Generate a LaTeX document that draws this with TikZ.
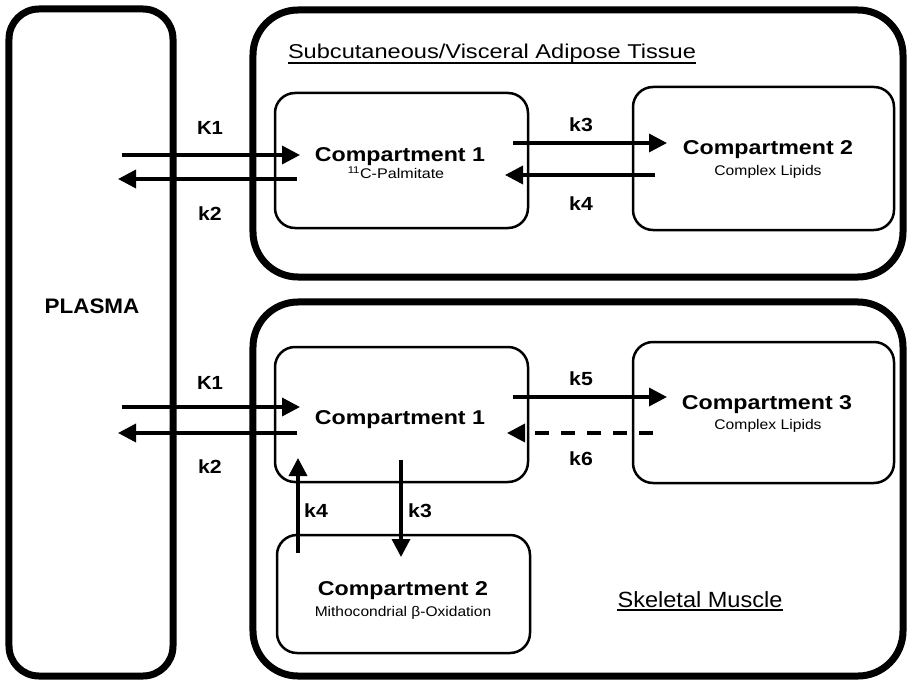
\documentclass[tikz,border=0pt]{standalone}
\usepackage{fontspec}
\setmainfont{Liberation Sans}
\usepackage{graphicx}
\usetikzlibrary{arrows.meta}
% horizontally widened text
\newcommand\widetxt[2]{\scalebox{#1}[1]{#2}}
\begin{document}
\begin{tikzpicture}[x=1bp,y=-1bp,
  region/.style={draw, line width=7bp, rounded corners=#1, inner sep=0pt},
  compbox/.style={draw, line width=2.5bp, rounded corners=20bp, inner sep=0pt},
  compname/.style={anchor=base, inner sep=0pt, font=\fontsize{20bp}{24bp}\selectfont\bfseries},
  compsub/.style={anchor=base, inner sep=0pt, font=\fontsize{14bp}{17bp}\selectfont},
  heading/.style={anchor=base, inner sep=0pt, font=\fontsize{20bp}{24bp}\selectfont},
  rate/.style={anchor=base, inner sep=0pt, font=\fontsize{19bp}{23bp}\selectfont\bfseries},
  flow/.style={line width=3.5bp, -{Triangle[length=18bp,width=18bp]}},
  uline/.style={line width=1.5bp}
]
\useasboundingbox (0,0) rectangle (909,681);

% outer regions
\node[region=30bp, minimum width=164bp, minimum height=667bp] (plasma) at (91,342.5) {};
\node[region=45bp, minimum width=650bp, minimum height=267bp] (adipose) at (578,143.5) {};
\node[region=45bp, minimum width=650bp, minimum height=374bp] (muscle) at (578,489) {};

\node[anchor=base, inner sep=0pt, font=\fontsize{21bp}{25bp}\selectfont\bfseries] (plasmalbl) at (92,313) {\widetxt{1.07}{PLASMA}};

% region headings
\node[heading] (adtitle) at (492,59) {\widetxt{1.18}{Subcutaneous/Visceral Adipose Tissue}};
\draw[uline] ([yshift=-4bp]adtitle.base west) -- ([yshift=-4bp]adtitle.base east);
\node[heading, font=\fontsize{22bp}{26bp}\selectfont] (mutitle) at (700,607) {\widetxt{1.07}{Skeletal Muscle}};
\draw[uline] ([yshift=-3bp]mutitle.base west) -- ([yshift=-3bp]mutitle.base east);

% compartments
\node[compbox, minimum width=253bp, minimum height=135bp] (a1) at (401.5,160.5) {};
\node[compbox, minimum width=261bp, minimum height=143bp] (a2) at (763.5,158.5) {};
\node[compbox, minimum width=253bp, minimum height=135bp] (m1) at (401.5,414.5) {};
\node[compbox, minimum width=261bp, minimum height=141bp] (m3) at (763.5,412.5) {};
\node[compbox, minimum width=253bp, minimum height=118bp] (m2) at (403.5,594) {};

\node[compname] (a1n) at (400,162) {\widetxt{1.16}{Compartment 1}};
\node[compsub] (a1s) at (396,178.5) {\widetxt{1.15}{\textsuperscript{11}C-Palmitate}};
\node[compname] (a2n) at (768,155) {\widetxt{1.16}{Compartment 2}};
\node[compsub] (a2s) at (768,175.5) {\widetxt{1.12}{Complex Lipids}};
\node[compname] (m1n) at (400,424) {\widetxt{1.16}{Compartment 1}};
\node[compname] (m3n) at (767,409) {\widetxt{1.16}{Compartment 3}};
\node[compsub] (m3s) at (768,429) {\widetxt{1.12}{Complex Lipids}};
\node[compname] (m2n) at (403,595) {\widetxt{1.16}{Compartment 2}};
\node[compsub] (m2s) at (403,616) {\widetxt{1.11}{Mithocondrial β-Oxidation}};

% connector end points
\coordinate (pin1)  at (122,155); \coordinate (a1in)  at (300,155);
\coordinate (a1out) at (297,179); \coordinate (pout1) at (118,179);
\coordinate (a1r)   at (513,143); \coordinate (a2in)  at (667,143);
\coordinate (a2out) at (655,175); \coordinate (a1rin) at (505,175);
\coordinate (pin2)  at (122,407); \coordinate (m1in)  at (300,407);
\coordinate (m1out) at (297,433); \coordinate (pout2) at (118,433);
\coordinate (m1r)   at (513,397); \coordinate (m3in)  at (667,397);
\coordinate (m3out) at (653,433); \coordinate (m1rin) at (507,433);
\coordinate (m1dn)  at (401,460); \coordinate (m2in)  at (401,557);
\coordinate (m2up)  at (298,553); \coordinate (m1bin) at (298,458);

% adipose exchange
\draw[flow] (pin1) -- (a1in);
\draw[flow] (a1out) -- (pout1);
\draw[flow] (a1r) -- (a2in);
\draw[flow] (a2out) -- (a1rin);
\node[rate] (ak1) at (210,135) {\widetxt{1.07}{K1}};
\node[rate] (ak2) at (210,220) {\widetxt{1.12}{k2}};
\node[rate] (ak3) at (581,132) {\widetxt{1.12}{k3}};
\node[rate] (ak4) at (581,210) {\widetxt{1.12}{k4}};

% muscle exchange
\draw[flow] (pin2) -- (m1in);
\draw[flow] (m1out) -- (pout2);
\draw[flow] (m1r) -- (m3in);
\draw[flow, dash pattern=on 14bp off 12bp] (m3out) -- (m1rin);
\draw[flow] (m1dn) -- (m2in);
\draw[flow] (m2up) -- (m1bin);
\node[rate] (mk1) at (210,389) {\widetxt{1.07}{K1}};
\node[rate] (mk2) at (210,473) {\widetxt{1.12}{k2}};
\node[rate] (mk5) at (581,385) {\widetxt{1.12}{k5}};
\node[rate] (mk6) at (581,465) {\widetxt{1.12}{k6}};
\node[rate] (mk4) at (316,517) {\widetxt{1.12}{k4}};
\node[rate] (mk3) at (420,517) {\widetxt{1.12}{k3}};
\end{tikzpicture}
\end{document}
